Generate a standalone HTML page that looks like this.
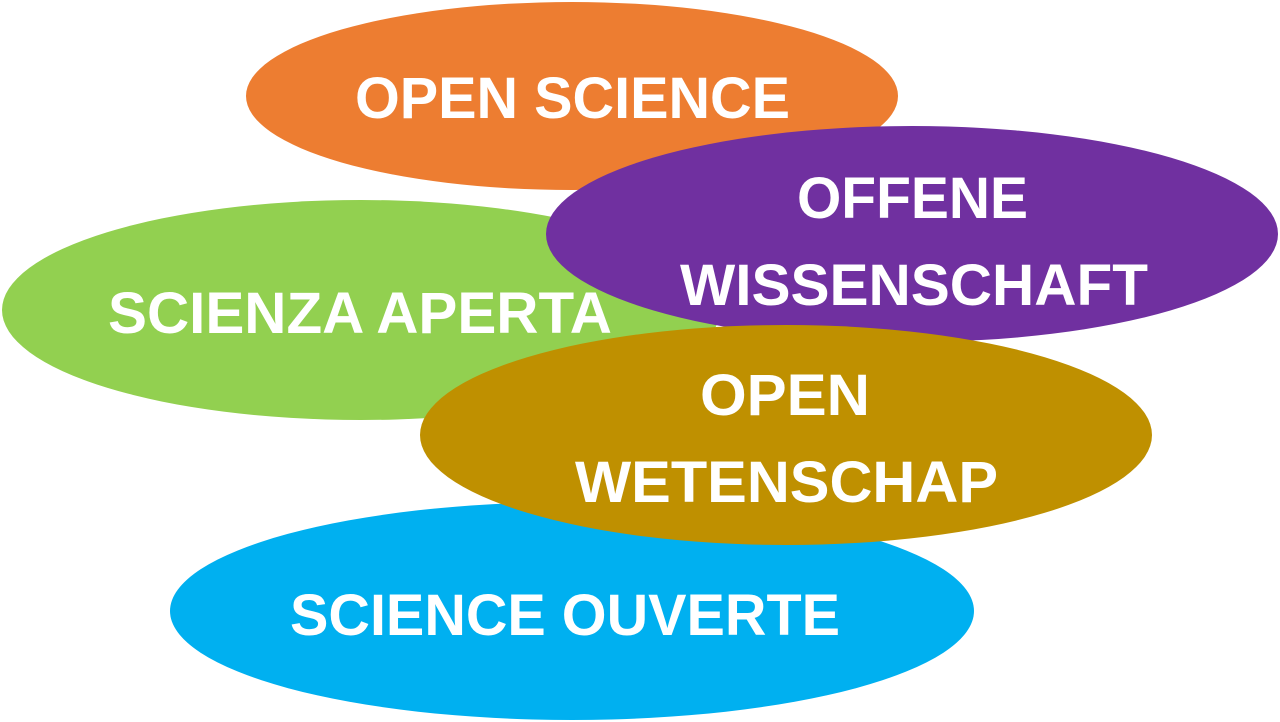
<!DOCTYPE html>
<html><head><style>html,body{margin:0;padding:0;background:#fff}svg{display:block}</style></head>
<body>
<svg width="1280" height="722" viewBox="0 0 1280 722" xmlns="http://www.w3.org/2000/svg" font-family="Liberation Sans, sans-serif" font-weight="bold" fill="#fff">
<ellipse cx="572" cy="96" rx="326" ry="94" fill="#ED7D31"/>
<text x="355" y="118" font-size="58" textLength="435" lengthAdjust="spacingAndGlyphs">OPEN SCIENCE</text>
<ellipse cx="361" cy="310" rx="359" ry="110" fill="#92D050"/>
<text x="108" y="333" font-size="58" textLength="504" lengthAdjust="spacingAndGlyphs">SCIENZA APERTA</text>
<ellipse cx="912" cy="234" rx="366" ry="108" fill="#7030A0"/>
<text x="797" y="218" font-size="58" textLength="231" lengthAdjust="spacingAndGlyphs">OFFENE</text>
<text x="680" y="305" font-size="58" textLength="468" lengthAdjust="spacingAndGlyphs">WISSENSCHAFT</text>
<ellipse cx="572" cy="611" rx="402" ry="109" fill="#00B0F0"/>
<text x="290" y="635" font-size="58" textLength="550" lengthAdjust="spacingAndGlyphs">SCIENCE OUVERTE</text>
<ellipse cx="786" cy="435" rx="366" ry="110" fill="#BF9000"/>
<text x="700" y="415" font-size="58" textLength="170" lengthAdjust="spacingAndGlyphs">OPEN</text>
<text x="575" y="502" font-size="58" textLength="423" lengthAdjust="spacingAndGlyphs">WETENSCHAP</text>
</svg>
</body></html>
